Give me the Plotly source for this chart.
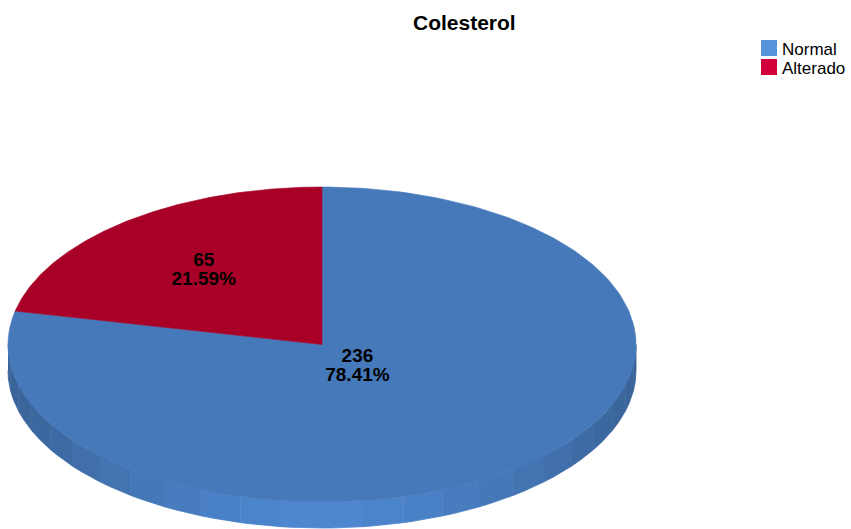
import numpy as np
import plotly.graph_objects as go

# ---- data ----
categories = ["Normal", "Alterado"]
counts = [236, 65]
title_text = "Colesterol"

# ---- styling ----
slice_colors = ["#4679BA", "#A80027"]
legend_colors = ["#5592DC", "#D2003A"]
label_radius = [0.18, 0.60]          # label distance from centre, fraction of radius
FONT = "Liberation Sans, Arial, sans-serif"

W, H = 851, 529
CX, CY = 322, 344.5                  # centre of the top face (px)
RX, RY = 314, 157.5                  # ellipse radii of the top face (px)
DEPTH = 26                           # thickness of the disc (px)
START_DEG = 90                       # first slice starts at 12 o'clock, goes clockwise
LINE_GAP = 19.5                      # distance between the two label lines (px)

total = sum(counts)
shares = [c / total for c in counts]

# slice angle ranges (degrees, clockwise => decreasing)
bounds = []
a = START_DEG
for s in shares:
    bounds.append((a, a - 360 * s))
    a -= 360 * s


def ell(theta):
    return CX + RX * np.cos(theta), CY - RY * np.sin(theta)


def rgb(c):
    c = c.lstrip("#")
    return np.array([int(c[i:i + 2], 16) for i in (0, 2, 4)], dtype=float)


def owner(deg):
    for i, (a0, a1) in enumerate(bounds):
        d = (a0 - deg) % 360
        if d <= a0 - a1:
            return i
    return 0


fig = go.Figure()

# ---- side wall (front half of the disc), faceted shading ----
n_facets = 24
edges = np.linspace(np.pi, 2 * np.pi, n_facets + 1)
for t0, t1 in zip(edges[:-1], edges[1:]):
    ts = np.linspace(t0, t1, 10)
    xt, yt = ell(ts)
    xs = np.concatenate([xt, xt[::-1]])
    ys = np.concatenate([yt, yt[::-1] + DEPTH])
    mid = (t0 + t1) / 2
    base = rgb(slice_colors[owner(np.degrees(mid))])
    k = abs(np.cos(mid)) ** 1.5
    col = np.clip(base * (1.12 + (0.82 - 1.12) * k), 0, 255)
    cs = "rgb(%d,%d,%d)" % tuple(col)
    fig.add_trace(go.Scatter(x=xs, y=ys, mode="lines", fill="toself",
                             fillcolor=cs, line=dict(color=cs, width=0.8),
                             hoverinfo="skip", showlegend=False))

# ---- top face slices ----
for i, (a0, a1) in enumerate(bounds):
    ts = np.radians(np.linspace(a0, a1, 240))
    xt, yt = ell(ts)
    xs = np.concatenate([[CX], xt, [CX]])
    ys = np.concatenate([[CY], yt, [CY]])
    fig.add_trace(go.Scatter(x=xs, y=ys, mode="lines", fill="toself",
                             fillcolor=slice_colors[i],
                             line=dict(color=slice_colors[i], width=0.6),
                             hoverinfo="skip", showlegend=False,
                             name=categories[i]))

# ---- slice labels (count on top, percentage below) ----
lx, ly = [], []
for i, (a0, a1) in enumerate(bounds):
    m = np.radians((a0 + a1) / 2)
    lx.append(CX + RX * label_radius[i] * np.cos(m))
    ly.append(CY - RY * label_radius[i] * np.sin(m))
label_font = dict(family=FONT, size=19, color="#000000")
fig.add_trace(go.Scatter(x=lx, y=[y - LINE_GAP / 2 for y in ly], mode="text",
                         text=[f"<b>{c}</b>" for c in counts],
                         textposition="middle center", textfont=label_font,
                         hoverinfo="skip", showlegend=False))
fig.add_trace(go.Scatter(x=lx, y=[y + LINE_GAP / 2 for y in ly], mode="text",
                         text=[f"<b>{s * 100:.2f}%</b>" for s in shares],
                         textposition="middle center", textfont=label_font,
                         hoverinfo="skip", showlegend=False))

# ---- title ----
fig.add_annotation(text=f"<b>{title_text}</b>", x=464, y=22, xref="x", yref="y",
                   showarrow=False, xanchor="center", yanchor="middle",
                   font=dict(family=FONT, size=21, color="#000000"))

# ---- legend ----
LEG_X, LEG_Y, LEG_SIZE, LEG_STEP = 761, 40, 16, 19
for i, name in enumerate(categories):
    y0 = LEG_Y + i * LEG_STEP
    fig.add_shape(type="rect", xref="x", yref="y",
                  x0=LEG_X, x1=LEG_X + LEG_SIZE, y0=y0, y1=y0 + LEG_SIZE,
                  fillcolor=legend_colors[i], line=dict(width=0))
    fig.add_annotation(text=name, x=LEG_X + LEG_SIZE + 3, y=y0 + LEG_SIZE / 2 + 1,
                       xref="x", yref="y", showarrow=False,
                       xanchor="left", yanchor="middle",
                       font=dict(family=FONT, size=17, color="#000000"))

fig.update_layout(
    width=W, height=H,
    margin=dict(l=0, r=0, t=0, b=0),
    paper_bgcolor="white", plot_bgcolor="white",
    xaxis=dict(range=[0, W], visible=False, fixedrange=True),
    yaxis=dict(range=[H, 0], visible=False, fixedrange=True),
    showlegend=False,
)

fig.write_html("out.html")
